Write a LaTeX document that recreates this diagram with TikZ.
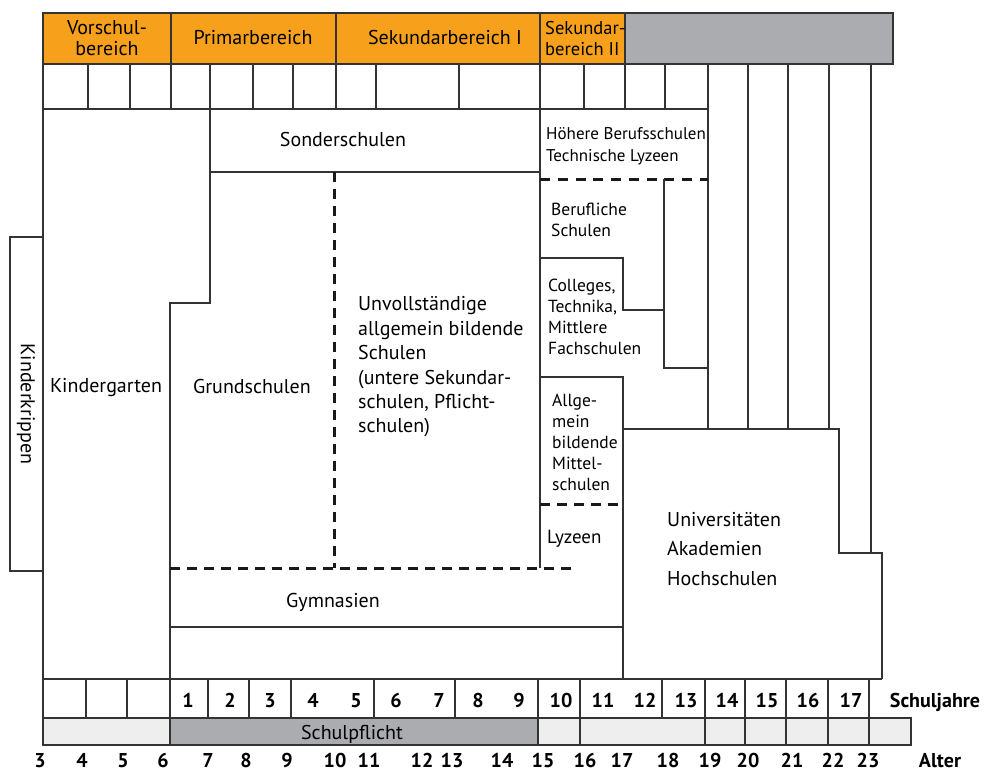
\documentclass[tikz,border=0pt]{standalone}
\usepackage{fontspec}
\setmainfont{PT Sans}
\definecolor{orangeB}{HTML}{F6A01C}
\definecolor{grauK}{HTML}{ABACAF}
\definecolor{grauH}{HTML}{EEEEEE}
\begin{document}
\begin{tikzpicture}[x=1pt,y=-1pt,
    linie/.style={line width=1.4pt,draw=black!80},
    strich/.style={line width=3pt,draw=black!90,dash pattern=on 10pt off 7pt},
    txt/.style={inner sep=0pt,font=\fontsize{20}{24}\selectfont},
    txtk/.style={inner sep=0pt,font=\fontsize{17.5}{21}\selectfont,align=left,anchor=west},
    zahl/.style={inner sep=0pt,font=\bfseries\fontsize{20}{22}\selectfont}]

    \useasboundingbox (0,0) rectangle (984,771);

    \def\yKa{13}
    \def\yKb{64}
    \def\yKc{109}
    \def\yJa{679}
    \def\yJb{718}
    \def\yAb{745}

    %Kopfzeile
    \filldraw[linie,fill=orangeB] (43,\yKa) rectangle (625,\yKb);
    \filldraw[linie,fill=grauK] (625,\yKa) rectangle (893,\yKb);
    \foreach \x in {171,336,540}
        \draw[linie] (\x,\yKa)--(\x,\yKb);
    \node[txt,align=center,font=\fontsize{20}{21}\selectfont] (vorschul) at (107,38) {Vorschul-\\bereich};
    \node[txt,anchor=base] (primar) at (253,44) {Primarbereich};
    \node[txt,anchor=base] (sekI) at (445,44) {Sekundarbereich I};
    \node[txtk,font=\fontsize{18.5}{21}\selectfont] (sekII) at (545,39) {Sekundar-\\bereich II};

    %Zeile oben
    \foreach \x in {43,88,130,171,210,253,293,336,376,459,540,584,625,665}
        \draw[linie] (\x,\yKb)--(\x,\yKc);
    \draw[linie] (43,\yKc)--(708,\yKc);
    \foreach \x in {708,748,788,829}
        \draw[linie] (\x,\yKb)--(\x,429);
    \draw[linie] (871,\yKb)--(871,553);

    %Kinderkrippen
    \draw[linie] (43,237)--(10,237)--(10,571)--(43,571);
    \node[txt,rotate=-90] (krippen) at (26,404) {Kinderkrippen};

    %Kindergarten, Grundschulen
    \draw[linie] (43,\yKc)--(43,\yJa);
    \draw[linie] (210,\yKc)--(210,303)--(170,303)--(170,\yJa);
    \node[txt,anchor=base] (garten) at (106,392) {Kindergarten};
    \node[txt,anchor=base] (grund) at (252,393) {Grundschulen};

    %Sonderschulen
    \draw[linie] (210,172)--(540,172);
    \draw[linie] (540,\yKc)--(540,568);
    \node[txt,anchor=base] (sonder) at (343,146) {Sonderschulen};

    %Unvollstaendige
    \draw[strich] (334,172)--(334,568);
    \draw[strich] (170,568)--(572,568);
    \node[txt,align=left,anchor=west,font=\fontsize{20}{24.4}\selectfont] (unvoll) at (358,367)
        {Unvollständige\\allgemein bildende\\Schulen\\(untere Sekundar-\\schulen, Pflicht-\\schulen)};

    %Gymnasien
    \draw[linie] (170,627)--(623,627);
    \node[txt,anchor=base] (gym) at (333,607) {Gymnasien};

    %Sekundarbereich II
    \draw[strich,dash pattern=on 10pt off 7.75pt] (540,179)--(708,179);
    \draw[linie] (664,179)--(664,368)--(708,368);
    \draw[linie] (540,258)--(623,258)--(623,310)--(664,310);
    \draw[linie] (540,377)--(623,377)--(623,\yJa);
    \draw[strich] (540,504)--(623,504);
    \node[txtk,font=\fontsize{17}{22}\selectfont] (hoehere) at (546,146) {Höhere Berufsschulen\\Technische Lyzeen};
    \node[txtk] (beruf) at (551,220) {Berufliche\\Schulen};
    \node[txtk] (colleges) at (548,317) {Colleges,\\Technika,\\Mittlere\\Fachschulen};
    \node[txtk] (mittel) at (552,442) {Allge-\\mein\\bildende\\Mittel-\\schulen};
    \node[txt,anchor=base west,font=\fontsize{19}{20}\selectfont] (lyzeen) at (547,543) {Lyzeen};

    %Hochschulen
    \draw[linie] (623,429)--(839,429)--(839,553)--(882,553)--(882,\yJa);
    \draw[linie] (43,\yJa)--(882,\yJa);
    \node[txt,align=left,anchor=west,font=\fontsize{20}{29.5}\selectfont] (uni) at (667,549)
        {Universitäten\\Akademien\\Hochschulen};

    %Schuljahre, Alter
    \fill[grauH] (43,\yJb) rectangle (911,\yAb);
    \fill[grauK] (170,\yJb) rectangle (538,\yAb);
    \draw[linie] (43,\yJb) rectangle (911,\yAb);
    \foreach \x in {86,127,208,249,291,374,455,662}
        \draw[linie] (\x,\yJa)--(\x,\yJb);
    \foreach \x in {43,170,538,580,705,745,786,828,869}
        \draw[linie] (\x,\yJa)--(\x,\yAb);
    \node[txt,anchor=base] (pflicht) at (352,739) {Schulpflicht};

    \foreach \n/\x in {1/188,2/230,3/270,4/313,5/356,6/396,7/439,8/478,9/519,10/561,11/603,12/645,13/686,14/727,15/767,16/808,17/851}
        \node[zahl,anchor=base] (sj\n) at (\x,707) {\n};
    \node[zahl,anchor=base] (schuljahre) at (935,707) {Schuljahre};

    \foreach \n/\x in {3/40,4/82,5/123,6/163,7/208,8/246,9/287,10/335,11/369,12/422,13/452,14/502,15/543,16/585,17/622,18/668,19/710,20/748,21/792,22/833,23/868}
        \node[zahl,anchor=base] (alt\n) at (\x,767) {\n};
    \node[zahl,anchor=base] (alter) at (940,767) {Alter};

\end{tikzpicture}
\end{document}
